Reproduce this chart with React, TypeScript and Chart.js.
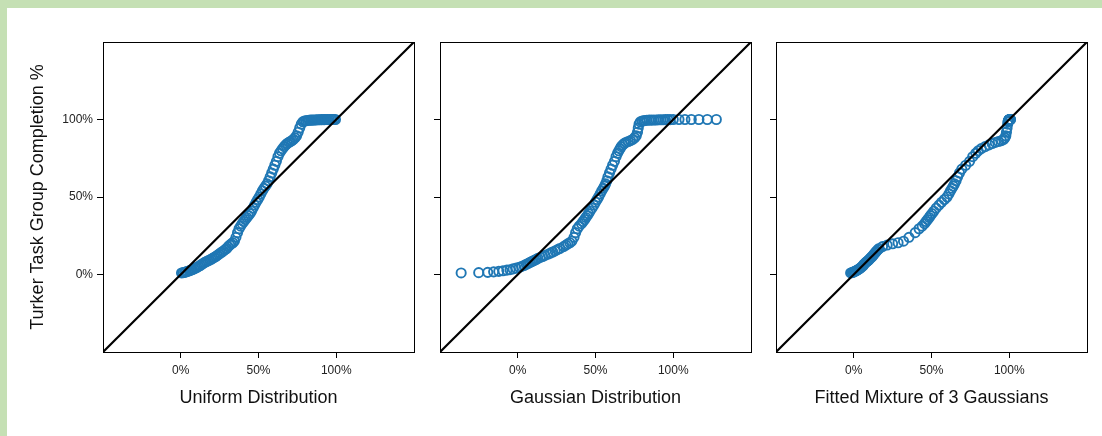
import React, { useEffect, useRef } from "react";
import { Chart, registerables } from "chart.js";

Chart.register(...registerables);

// Sorted observed completion fractions (shared by all three Q-Q panels)
const completion = [
  0.010, 0.012, 0.014, 0.017, 0.020, 0.024, 0.028, 0.031, 0.036, 0.041,
  0.046, 0.052, 0.058, 0.066, 0.072, 0.078, 0.083, 0.088, 0.093, 0.098,
  0.104, 0.110, 0.116, 0.123, 0.131, 0.138, 0.145, 0.152, 0.160, 0.168,
  0.180, 0.190, 0.198, 0.205, 0.215, 0.240, 0.270, 0.295, 0.312, 0.328,
  0.342, 0.355, 0.368, 0.380, 0.393, 0.408, 0.428, 0.448, 0.466, 0.484,
  0.500, 0.520, 0.540, 0.556, 0.570, 0.585, 0.605, 0.630, 0.655, 0.680,
  0.705, 0.730, 0.760, 0.782, 0.798, 0.812, 0.825, 0.836, 0.845, 0.852,
  0.858, 0.864, 0.872, 0.882, 0.895, 0.918, 0.945, 0.970, 0.985, 0.990,
  0.992, 0.994, 0.995, 0.996, 0.996, 0.997, 0.997, 0.998, 0.998, 0.998,
  0.999, 0.999, 0.999, 1.000, 1.000, 1.000, 1.000, 1.000, 1.000, 1.000,
];

// Theoretical quantiles: uniform distribution
const uniformQ = [
  0.005, 0.015, 0.025, 0.035, 0.045, 0.055, 0.065, 0.075, 0.085, 0.095,
  0.105, 0.115, 0.125, 0.135, 0.145, 0.155, 0.165, 0.175, 0.185, 0.195,
  0.205, 0.215, 0.225, 0.235, 0.245, 0.255, 0.265, 0.275, 0.285, 0.295,
  0.305, 0.315, 0.325, 0.335, 0.345, 0.355, 0.365, 0.375, 0.385, 0.395,
  0.405, 0.415, 0.425, 0.435, 0.445, 0.455, 0.465, 0.475, 0.485, 0.495,
  0.505, 0.515, 0.525, 0.535, 0.545, 0.555, 0.565, 0.575, 0.585, 0.595,
  0.605, 0.615, 0.625, 0.635, 0.645, 0.655, 0.665, 0.675, 0.685, 0.695,
  0.705, 0.715, 0.725, 0.735, 0.745, 0.755, 0.765, 0.775, 0.785, 0.795,
  0.805, 0.815, 0.825, 0.835, 0.845, 0.855, 0.865, 0.875, 0.885, 0.895,
  0.905, 0.915, 0.925, 0.935, 0.945, 0.955, 0.965, 0.975, 0.985, 0.995,
];

// Theoretical quantiles: fitted Gaussian
const gaussianQ = [
  -0.364, -0.251, -0.193, -0.155, -0.122, -0.095, -0.070, -0.050, -0.030, -0.010,
  0.010, 0.025, 0.040, 0.055, 0.068, 0.080, 0.090, 0.100, 0.110, 0.120,
  0.130, 0.145, 0.160, 0.175, 0.195, 0.210, 0.225, 0.240, 0.255, 0.270,
  0.295, 0.310, 0.322, 0.335, 0.348, 0.362, 0.372, 0.383, 0.395, 0.410,
  0.420, 0.430, 0.438, 0.447, 0.455, 0.465, 0.478, 0.490, 0.500, 0.510,
  0.520, 0.530, 0.540, 0.550, 0.558, 0.565, 0.573, 0.580, 0.590, 0.600,
  0.610, 0.622, 0.632, 0.642, 0.650, 0.658, 0.665, 0.675, 0.685, 0.695,
  0.710, 0.725, 0.740, 0.752, 0.762, 0.770, 0.775, 0.780, 0.788, 0.800,
  0.810, 0.820, 0.830, 0.845, 0.860, 0.875, 0.890, 0.905, 0.920, 0.935,
  0.950, 0.965, 0.980, 1.000, 1.037, 1.075, 1.116, 1.165, 1.219, 1.277,
];

// Theoretical quantiles: fitted mixture of 3 Gaussians
const mixtureQ = [
  -0.020, -0.012, -0.005, 0.000, 0.008, 0.015, 0.022, 0.028, 0.035, 0.042,
  0.048, 0.055, 0.060, 0.066, 0.072, 0.078, 0.084, 0.090, 0.096, 0.100,
  0.106, 0.112, 0.118, 0.124, 0.130, 0.136, 0.142, 0.148, 0.155, 0.163,
  0.185, 0.215, 0.250, 0.285, 0.320, 0.355, 0.395, 0.420, 0.440, 0.455,
  0.465, 0.475, 0.485, 0.493, 0.503, 0.515, 0.530, 0.548, 0.565, 0.583,
  0.600, 0.612, 0.622, 0.632, 0.640, 0.648, 0.658, 0.668, 0.680, 0.695,
  0.720, 0.745, 0.765, 0.785, 0.800, 0.820, 0.845, 0.870, 0.890, 0.910,
  0.930, 0.950, 0.965, 0.972, 0.978, 0.982, 0.986, 0.990, 0.992, 0.994,
  0.995, 0.996, 0.997, 0.998, 0.998, 0.999, 0.999, 1.000, 1.000, 1.000,
  1.001, 1.001, 1.002, 1.002, 1.003, 1.003, 1.004, 1.005, 1.006, 1.008,
];

const tickValues = [0, 0.5, 1];
const axisMin = -0.5;
const axisMax = 1.5;
const panelTitles = ["Uniform Distribution", "Gaussian Distribution", "Fitted Mixture of 3 Gaussians"];
const yTitle = "Turker Task Group Completion %";

const FONT = "'Liberation Sans', Arial, Helvetica, sans-serif";
const BLUE = "rgb(31,119,180)";

const boxPlugin = {
  id: "panelBox",
  afterDatasetsDraw(chart: any) {
    const { ctx, chartArea: a } = chart;
    ctx.save();
    ctx.strokeStyle = "#000";
    ctx.lineWidth = 1;
    const l = Math.round(a.left) + 0.5;
    const t = Math.round(a.top) + 0.5;
    ctx.strokeRect(l, t, Math.round(a.right - a.left), Math.round(a.bottom - a.top));
    ctx.restore();
  },
};

const pct = (v: any) => Math.round(Number(v) * 100) + "%";

function makeConfig(xs: number[], title: string, first: boolean, yWidth: number, padRight: number) {
  const points = xs.map((x, i) => ({ x, y: completion[i] }));
  return {
    type: "scatter" as const,
    data: {
      datasets: [
        {
          type: "line" as const,
          data: [
            { x: axisMin, y: axisMin },
            { x: axisMax, y: axisMax },
          ],
          borderColor: "#000",
          borderWidth: 2.2,
          pointRadius: 0,
          fill: false,
          tension: 0,
        },
        {
          data: points,
          pointStyle: "circle",
          pointRadius: 4.6,
          pointBorderWidth: 1.9,
          borderWidth: 1.9,
          borderColor: BLUE,
          pointBorderColor: BLUE,
          backgroundColor: "rgba(0,0,0,0)",
          pointBackgroundColor: "rgba(0,0,0,0)",
        },
      ],
    },
    options: {
      animation: false as const,
      responsive: false,
      maintainAspectRatio: false,
      events: [] as any[],
      layout: { padding: { top: 34, right: padRight, left: 0, bottom: 0 } },
      plugins: { legend: { display: false }, tooltip: { enabled: false } },
      scales: {
        x: {
          type: "linear" as const,
          min: axisMin,
          max: axisMax,
          afterBuildTicks: (s: any) => {
            s.ticks = tickValues.map((v) => ({ value: v }));
          },
          afterFit: (s: any) => {
            s.height = 84;
          },
          grid: { drawOnChartArea: false, drawTicks: true, tickLength: 6, tickColor: "#000", lineWidth: 1 },
          border: { display: false },
          ticks: {
            padding: 5,
            maxRotation: 0,
            autoSkip: false,
            color: "#222",
            font: { family: FONT, size: 12 },
            callback: pct,
          },
          title: {
            display: true,
            text: title,
            color: "#111",
            font: { family: FONT, size: 18 },
            padding: { top: 0, bottom: 27 },
          },
        },
        y: {
          type: "linear" as const,
          min: axisMin,
          max: axisMax,
          afterBuildTicks: (s: any) => {
            s.ticks = tickValues.map((v) => ({ value: v }));
          },
          afterFit: (s: any) => {
            s.width = yWidth;
          },
          grid: { drawOnChartArea: false, drawTicks: true, tickLength: 6, tickColor: "#000", lineWidth: 1 },
          border: { display: false },
          ticks: {
            display: first,
            padding: 4,
            autoSkip: false,
            color: "#222",
            font: { family: FONT, size: 12 },
            callback: pct,
          },
          title: {
            display: first,
            text: yTitle,
            color: "#111",
            font: { family: FONT, size: 18 },
            padding: { top: 20, bottom: 0 },
          },
        },
      },
    },
    plugins: [boxPlugin],
  };
}

const panels = [
  { xs: uniformQ, left: 0, width: 420, yWidth: 96, padRight: 13 },
  { xs: gaussianQ, left: 420, width: 338, yWidth: 13, padRight: 14 },
  { xs: mixtureQ, left: 758, width: 337, yWidth: 11, padRight: 15 },
];

export default function App() {
  const refs = [useRef<HTMLCanvasElement>(null), useRef<HTMLCanvasElement>(null), useRef<HTMLCanvasElement>(null)];

  useEffect(() => {
    document.body.style.margin = "0";
    document.body.style.background = "#C5E0B4";
    document.body.style.overflow = "hidden";
    const charts = panels.map((p, i) => {
      const c = refs[i].current!;
      return new Chart(c, makeConfig(p.xs, panelTitles[i], i === 0, p.yWidth, p.padRight) as any);
    });
    return () => charts.forEach((c) => c.destroy());
  }, []);

  return (
    <div
      style={{
        position: "absolute",
        left: 7,
        top: 8,
        width: 1095,
        height: 428,
        background: "#fff",
        overflow: "hidden",
      }}
    >
      {panels.map((p, i) => (
        <canvas
          key={i}
          ref={refs[i]}
          width={p.width}
          height={428}
          style={{ position: "absolute", left: p.left, top: 0, width: p.width, height: 428 }}
        />
      ))}
    </div>
  );
}
